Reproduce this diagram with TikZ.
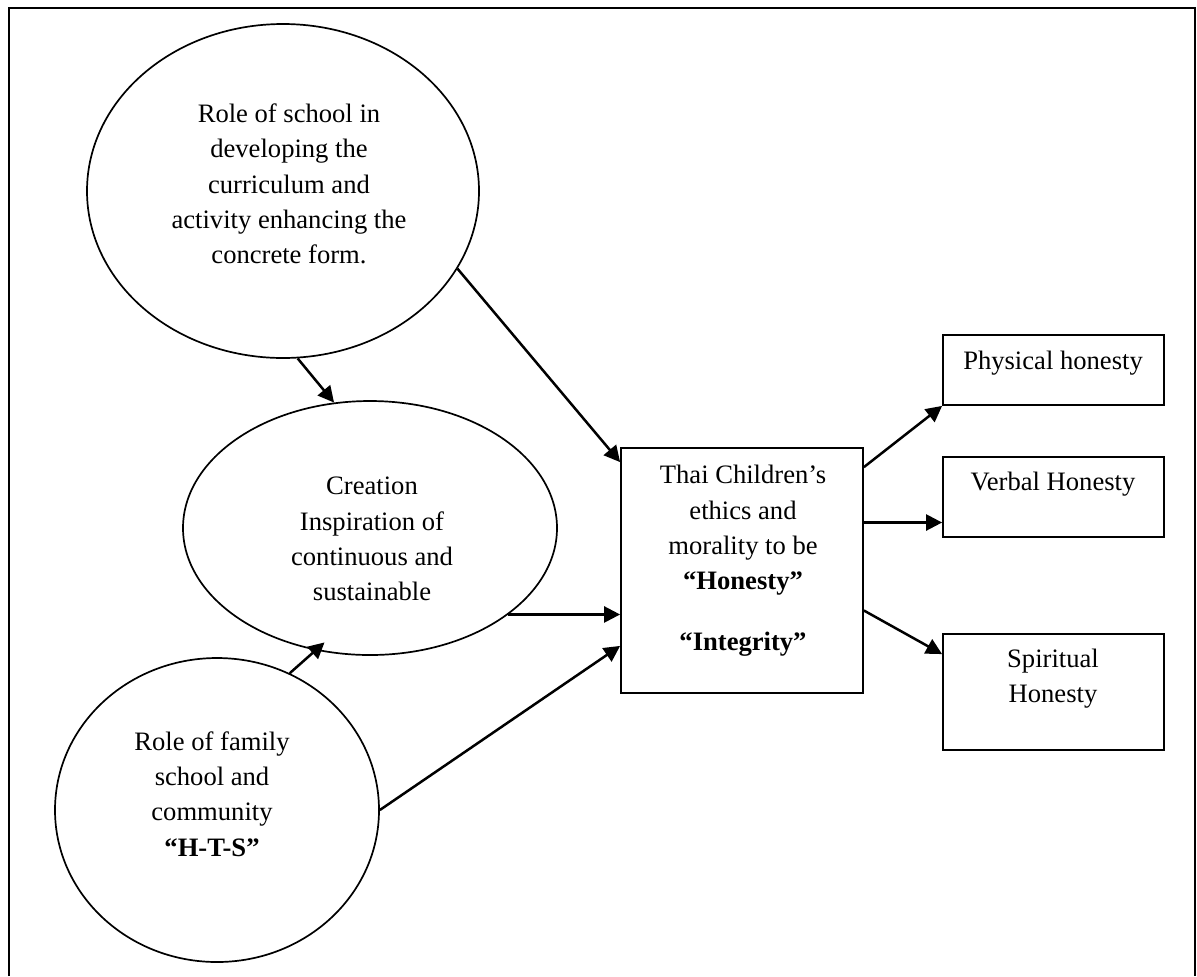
\documentclass[tikz,border=0pt]{standalone}
\usepackage{fontspec}
\setmainfont{Liberation Serif}
\usetikzlibrary{arrows.meta,positioning,shapes.geometric}
\tikzset{
	oval/.style={draw,ellipse,inner sep=0pt,line width=0.85pt},
	box/.style={draw,rectangle,inner sep=0pt,line width=0.9pt},
	txt/.style={align=center,inner sep=0pt},
	>={Triangle[length=8pt,width=8pt]},
	link/.style={->,line width=1.25pt}
}
\begin{document}
\begin{tikzpicture}[x=0.5pt,y=-0.5pt,font=\fontsize{13.3pt}{17.6pt}\selectfont]
	\useasboundingbox (0,0) rectangle (1197,976);
	\draw[line width=1pt] (9,976) -- (9,8) -- (1195,8) -- (1195,976);

	\node[oval,minimum width=196pt,minimum height=167pt] (school) at (283,191) {};
	\node[txt] (schooltxt) at (289,184) {Role of school in\\developing  the\\curriculum and\\activity enhancing the\\concrete form.};
	\node[oval,minimum width=187pt,minimum height=127pt] (creation) at (370,528) {};
	\node[txt] (creationtxt) at (372,539) {Creation\\Inspiration of\\continuous and\\sustainable};
	\node[oval,minimum width=162pt,minimum height=152pt] (family) at (217,810) {};
	\node[txt] (familytxt) at (212,794) {Role of family\\school and\\community\\\textbf{“H-T-S”}};

	\node[box,minimum width=121pt,minimum height=122.5pt] (main) at (742,570.5) {};
	\node[txt] (maintxt) at (743,561) {Thai Children’s\\ethics and\\morality to be\\\textbf{“Honesty”}\\[13pt]\textbf{“Integrity”}};

	\node[box,minimum width=110.5pt,minimum height=35pt] (phys) at (1053.5,370) {};
	\node[txt] (phystxt) at (1053,363) {Physical honesty};
	\node[box,minimum width=110.5pt,minimum height=40pt] (verbal) at (1053.5,497) {};
	\node[txt] (verbaltxt) at (1053,484) {Verbal Honesty};
	\node[box,minimum width=110.5pt,minimum height=58pt] (spirit) at (1053.5,692) {};
	\node[txt] (spirittxt) at (1053,679) {Spiritual\\Honesty};

	\draw[link] (school.-24) -- ([yshift=-7.5pt]main.north west);
	\draw[link] (school.-85) -- (creation.106);
	\draw[link] (creation.-32) -- (creation.-32 -| main.west);
	\draw[link,shorten >=-6pt] (family.62) -- (creation.-114);
	\draw[link] (family.east) -- ([yshift=24pt]main.south west);

	\draw[link] ([yshift=-10pt]main.north east) -- (phys.south west);
	\draw[link] ([yshift=24pt]main.east) -- ([yshift=24pt]main.east -| verbal.west);
	\draw[link] ([yshift=-20pt]main.east) -- ([yshift=-10.5pt]spirit.north west);
\end{tikzpicture}
\end{document}
